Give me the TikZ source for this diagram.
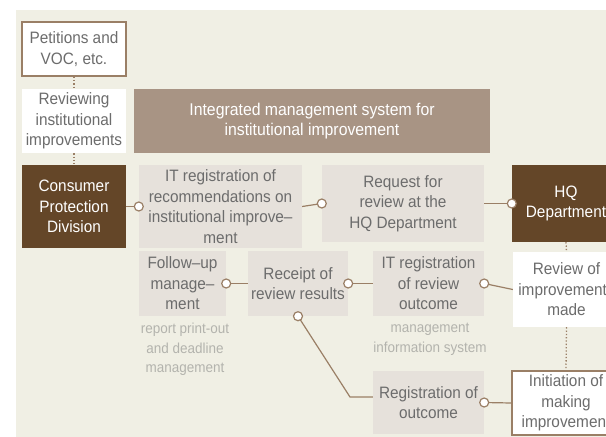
\documentclass[tikz,border=0pt]{standalone}
\usepackage{fontspec}
\setmainfont{Liberation Sans}[FakeStretch=0.93]
\definecolor{paper}{HTML}{F0EFE4}
\definecolor{boxgrey}{HTML}{E6E1DB}
\definecolor{darkbrown}{HTML}{644628}
\definecolor{midbrown}{HTML}{A89484}
\definecolor{linebrown}{HTML}{9A7F66}
\definecolor{boxtext}{HTML}{6C6C6C}
\definecolor{notegrey}{HTML}{B3B3AD}
\begin{document}
\begin{tikzpicture}[x=1pt,y=-1pt,
  box/.style={inner sep=0pt, align=center, text=boxtext, font=\fontsize{16.5}{20.5}\selectfont},
  greybox/.style={box, fill=boxgrey},
  darkbox/.style={box, fill=darkbrown, text=white},
  plainbox/.style={box, fill=white},
  framedbox/.style={box, fill=white, draw=linebrown, line width=1.2pt},
  note/.style={align=center, text=notegrey, font=\fontsize{14.5}{19.5}\selectfont},
  link/.style={draw=linebrown, line width=1.2pt},
  dots/.style={draw=linebrown, dotted, line width=1.3pt},
  knob/.style={draw=linebrown, fill=white, line width=1.2pt}
]
\clip (0,0) rectangle (606,437);
\fill[white] (0,0) rectangle (606,437);
\fill[paper] (16,10) rectangle (606,437);

\node[framedbox, minimum width=104, minimum height=54] (petvoc) at (74,49) {Petitions and\\VOC, etc.};
\node[plainbox, minimum width=104, minimum height=64] (revinst) at (74,121) {Reviewing\\institutional\\improvements};
\node[box, fill=midbrown, text=white, font=\fontsize{17}{20}\selectfont,
      minimum width=356, minimum height=64] (ims) at (312,121) {Integrated management system for\\institutional improvement};

\node[darkbox, minimum width=104, minimum height=83] (cpd) at (74,206.5) {Consumer\\Protection\\Division};
\node[greybox, minimum width=163, minimum height=83] (itreg) at (220.5,206.5) {IT registration of\\recommendations on\\institutional improve--\\ment};
\node[greybox, minimum width=162, minimum height=77] (req) at (403,203.5) {Request for\\review at the\\HQ Department};
\node[darkbox, minimum width=108, minimum height=77] (hq) at (566,203.5) {HQ\\Department};

\node[greybox, minimum width=87, minimum height=65] (follow) at (182.5,283.5) {Follow--up\\manage--\\ment};
\node[greybox, minimum width=100, minimum height=65] (receipt) at (298,283.5) {Receipt of\\review results};
\node[greybox, minimum width=111, minimum height=65] (itrev) at (428.5,283.5) {IT registration\\of review\\outcome};
\node[plainbox, minimum width=107, minimum height=75] (revimp) at (566.5,289.5) {Review of\\improvements\\made};

\node[note] (printout) at (185,349.5) {report print-out\\and deadline\\management};
\node[note] (mis) at (430,339.5) {management\\information system};

\node[greybox, minimum width=111, minimum height=63] (regout) at (428.5,402.5) {Registration of\\outcome};
\node[framedbox, minimum width=108, minimum height=64] (init) at (566,403) {Initiation of\\making\\improvement};

\coordinate (bend) at (350,397);

% dotted steps
\draw[dots] (petvoc.south) -- (revinst.north);
\draw[dots] (revinst.south) -- (cpd.north);
\draw[dots] (hq.south) -- (revimp.north);
\draw[dots] (revimp.south) -- (init.north);

% connectors
\draw[link] (cpd.east) -- (itreg.west);
\draw[link] (itreg.east) -- (req.west);
\draw[link] (req.east) -- (hq.west);
\draw[link] (follow.east) -- (receipt.west);
\draw[link] (receipt.east) -- (itrev.west);
\draw[link] (itrev.east) -- (revimp.west);
\draw[link] (receipt.south) -- (bend) -- (bend -| regout.west);
\draw[link] (regout.east) -- (init.west);

\draw[knob] (itreg.west) circle (4.5);
\draw[knob] (req.west) circle (4.5);
\draw[knob] (hq.west) circle (4.5);
\draw[knob] (follow.east) circle (4.5);
\draw[knob] (receipt.east) circle (4.5);
\draw[knob] (itrev.east) circle (4.5);
\draw[knob] (receipt.south) circle (4.5);
\draw[knob] (regout.east) circle (4.5);

\end{tikzpicture}
\end{document}
